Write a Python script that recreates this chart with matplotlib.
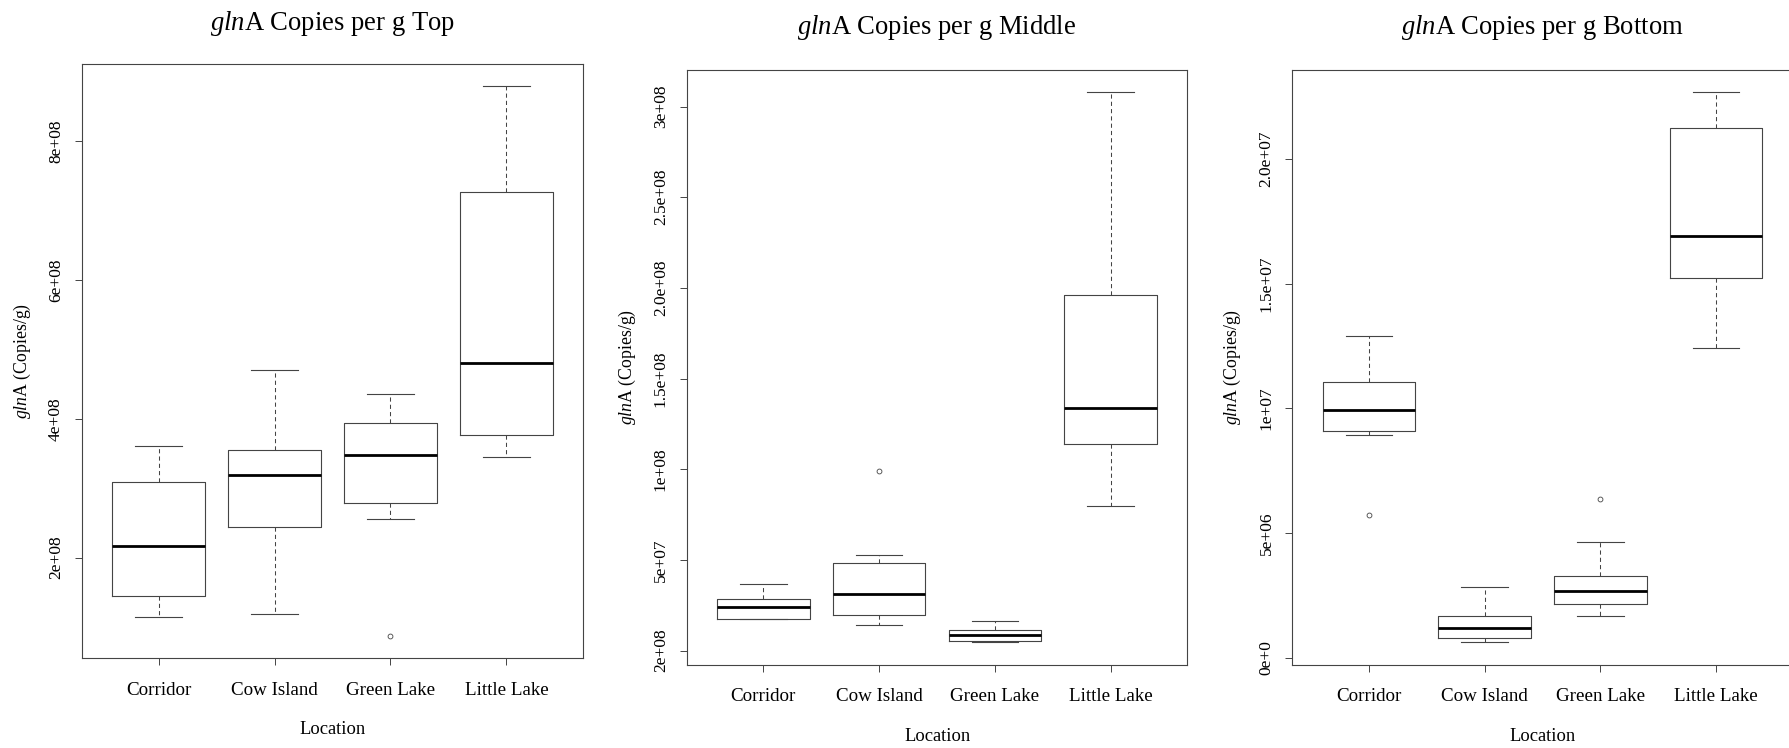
import matplotlib
matplotlib.use('Agg')
import matplotlib.pyplot as plt

plt.rcParams['font.family'] = ['Liberation Serif', 'DejaVu Serif']
plt.rcParams['mathtext.fontset'] = 'custom'
plt.rcParams['mathtext.rm'] = 'Liberation Serif'
plt.rcParams['mathtext.it'] = 'Liberation Serif:italic'

locations = ['Corridor', 'Cow Island', 'Green Lake', 'Little Lake']

# five-number summaries per location, plus outliers
top_low = [1.15e8, 1.19e8, 2.56e8, 3.45e8]
top_q1 = [1.45e8, 2.44e8, 2.79e8, 3.77e8]
top_med = [2.17e8, 3.19e8, 3.48e8, 4.80e8]
top_q3 = [3.09e8, 3.55e8, 3.94e8, 7.27e8]
top_high = [3.60e8, 4.70e8, 4.35e8, 8.80e8]
top_out = [[], [], [0.87e8], []]
top_ticks = [2e8, 4e8, 6e8, 8e8]
top_ticklabels = ['2e+08', '4e+08', '6e+08', '8e+08']

mid_low = [17.5e6, 14.0e6, 4.5e6, 80e6]
mid_q1 = [17.5e6, 19.5e6, 5.5e6, 114e6]
mid_med = [24.0e6, 31.5e6, 8.7e6, 134e6]
mid_q3 = [28.5e6, 48.5e6, 11.5e6, 196e6]
mid_high = [37.0e6, 52.5e6, 16.5e6, 308e6]
mid_out = [[], [99e6], [], []]
mid_ticks = [0, 5e7, 1e8, 1.5e8, 2e8, 2.5e8, 3e8]
mid_ticklabels = ['2e+08', '5e+07', '1e+08', '1.5e+08', '2.0e+08', '2.5e+08', '3e+08']

bot_low = [8.93e6, 0.61e6, 1.67e6, 12.41e6]
bot_q1 = [9.10e6, 0.79e6, 2.15e6, 15.23e6]
bot_med = [9.92e6, 1.19e6, 2.68e6, 16.90e6]
bot_q3 = [11.07e6, 1.69e6, 3.26e6, 21.23e6]
bot_high = [12.90e6, 2.85e6, 4.62e6, 22.68e6]
bot_out = [[5.71e6], [], [6.38e6], []]
bot_ticks = [0, 5e6, 1e7, 1.5e7, 2e7]
bot_ticklabels = ['0e+0', '5e+06', '1e+07', '1.5e+07', '2.0e+07']

panels = [
    ('Top', top_low, top_q1, top_med, top_q3, top_high, top_out, top_ticks, top_ticklabels),
    ('Middle', mid_low, mid_q1, mid_med, mid_q3, mid_high, mid_out, mid_ticks, mid_ticklabels),
    ('Bottom', bot_low, bot_q1, bot_med, bot_q3, bot_high, bot_out, bot_ticks, bot_ticklabels),
]

W, H = 1790, 748
fig = plt.figure(figsize=(W / 100, H / 100), dpi=100)

# axes boxes in pixels: left, top, width, height, title centre y
ax_px = [(82, 63.5, 501, 594.5, 23), (687, 70, 500, 594.5, 27), (1292.5, 70, 500, 594.5, 27)]

line_col = '#444444'
for (name, low, q1, med, q3, high, out, ticks, ticklabels), (l, t, w, h, ty) in zip(panels, ax_px):
    ax = fig.add_axes([l / W, (H - t - h) / H, w / W, h / H])
    stats = []
    for i in range(len(locations)):
        stats.append({'whislo': low[i], 'q1': q1[i], 'med': med[i], 'q3': q3[i],
                      'whishi': high[i], 'fliers': out[i], 'label': locations[i]})
    ax.bxp(stats, positions=[1, 2, 3, 4], widths=0.8, capwidths=0.4,
           boxprops=dict(color=line_col, lw=0.8),
           medianprops=dict(color='black', lw=2.0, solid_capstyle='butt'),
           whiskerprops=dict(color=line_col, lw=0.75, linestyle=(0, (4, 3))),
           capprops=dict(color=line_col, lw=0.8),
           flierprops=dict(marker='o', markersize=3.5, markerfacecolor='none',
                           markeredgecolor=line_col, markeredgewidth=0.6))

    # R-style 4% padding around the data range
    vals = low + high + [v for o in out for v in o]
    lo, hi = min(vals), max(vals)
    pad = 0.04 * (hi - lo)
    ax.set_ylim(lo - pad, hi + pad)
    ax.set_xlim(0.34, 4.66)

    ax.set_yticks(ticks)
    ax.set_yticklabels(ticklabels, rotation=90, va='center')
    ax.set_xticks([1, 2, 3, 4])
    ax.set_xticklabels(locations)
    ax.tick_params(axis='both', direction='out', length=5, width=0.7, color=line_col)
    ax.tick_params(axis='y', pad=8, labelsize=12.5)
    ax.tick_params(axis='x', pad=12, labelsize=13.7)
    for sp in ax.spines.values():
        sp.set_color(line_col)
        sp.set_linewidth(0.8)

    ax.set_xlabel('Location', fontsize=13.3)
    ax.xaxis.label.set_va('center')
    ax.xaxis.set_label_coords(0.5, -72 / h)
    ax.set_ylabel(r'$\mathit{gln}$A (Copies/g)', fontsize=12.8)
    ax.yaxis.label.set_va('center')
    ax.yaxis.set_label_coords(-60 / w, 0.5)

    ax.set_title(r'$\mathit{gln}$A Copies per g ' + name, fontsize=19.2,
                 y=1 + (t - ty) / h, va='center', pad=0)

fig.savefig('out.png', dpi=100)
